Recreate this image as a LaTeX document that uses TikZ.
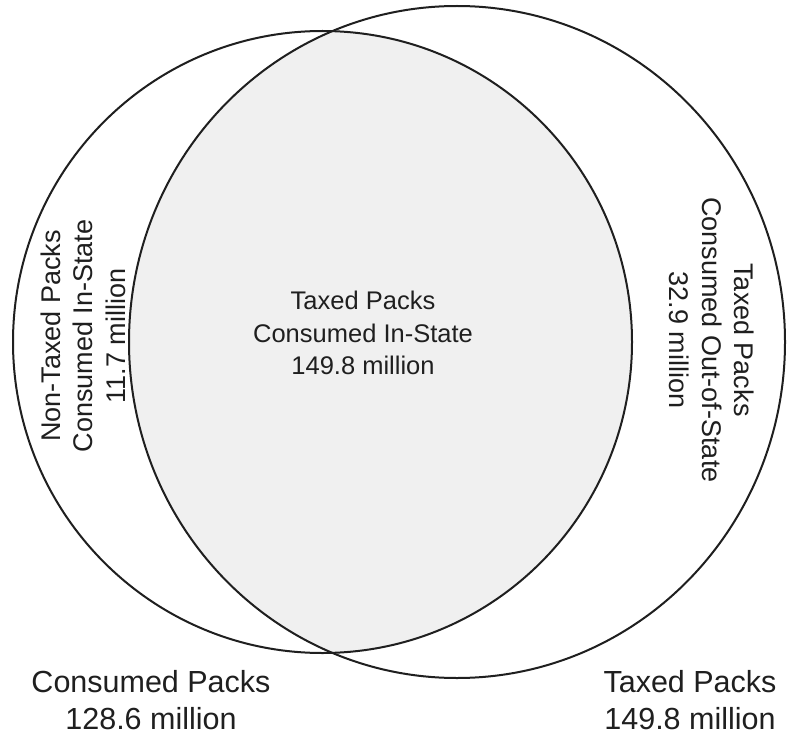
\documentclass[tikz,border=0pt]{standalone}
\usepackage{fontspec}
\setmainfont{Liberation Sans}
\begin{document}
\begin{tikzpicture}[x=1bp,y=-1bp,
  ring/.style={draw=black!88,line width=2bp},
  bigtxt/.style={align=center,text=black!88,font=\fontsize{30.5bp}{37bp}\selectfont,inner sep=0pt},
  midtxt/.style={align=center,text=black!88,font=\fontsize{25.5bp}{32.5bp}\selectfont,inner sep=0pt},
  sidetxt/.style={align=center,text=black!88,font=\fontsize{27bp}{32.5bp}\selectfont,inner sep=0pt}]
\useasboundingbox (0,0) rectangle (788,735);
\fill[white] (0,0) rectangle (788,735);
% lens fill
\begin{scope}
  \clip (322.5,342) ellipse [x radius=309.5, y radius=311];
  \fill[black!6] (457,342) ellipse [x radius=328, y radius=336];
\end{scope}
\draw[ring] (322.5,342) ellipse [x radius=309.5, y radius=311];
\draw[ring] (457,342) ellipse [x radius=328, y radius=336];
% labels
\node[midtxt] (mid) at (363,333) {Taxed Packs\\Consumed In-State\\149.8 million};
\node[sidetxt,rotate=90] (left) at (83,336) {Non-Taxed Packs\\Consumed In-State\\11.7 million};
\node[sidetxt,rotate=-90] (right) at (712,340) {Taxed Packs\\Consumed Out-of-State\\32.9 million};
\node[bigtxt] (cons) at (151,700) {Consumed Packs\\128.6 million};
\node[bigtxt] (tax) at (690,700) {Taxed Packs\\149.8 million};
\end{tikzpicture}
\end{document}
